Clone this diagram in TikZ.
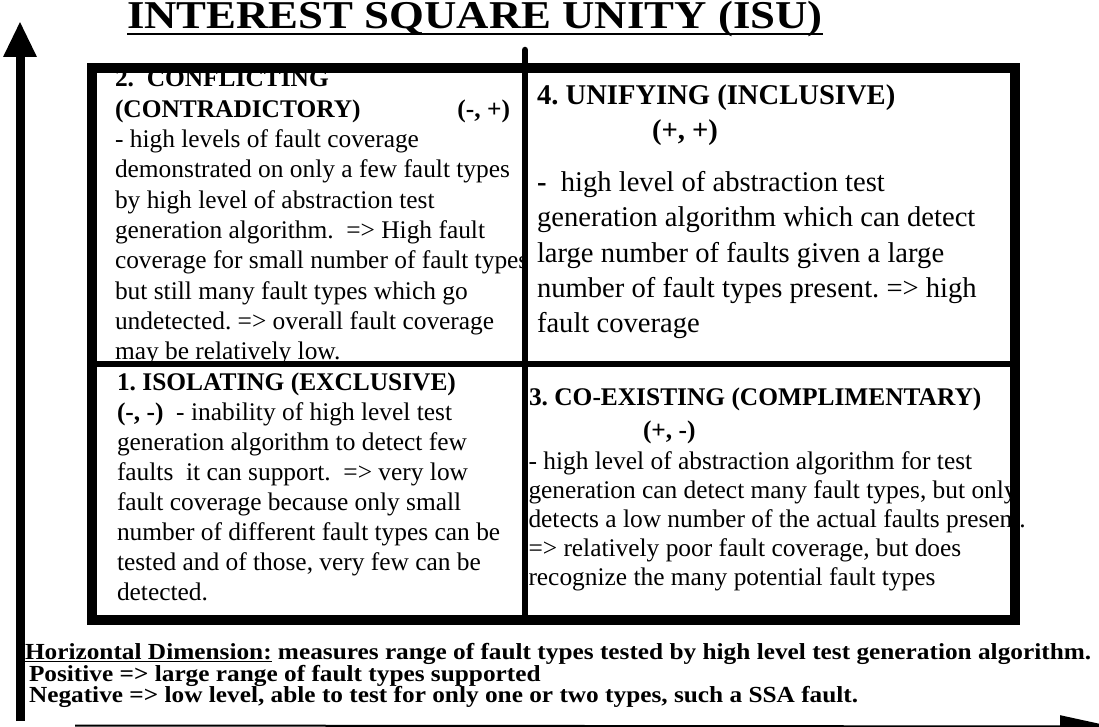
\documentclass[tikz,border=0pt]{standalone}
\usepackage{fontspec}
\setmainfont{Liberation Serif}
\usepackage{graphicx}
\usetikzlibrary{arrows.meta}
\AtBeginDocument{\frenchspacing}
\tikzset{
  body/.style={anchor=base west, inner sep=0pt, outer sep=0pt, font=\fontsize{25.4}{30}\selectfont},
  bodylg/.style={anchor=base west, inner sep=0pt, outer sep=0pt, font=\fontsize{28.6}{35}\selectfont},
  head/.style={body, font=\fontsize{25.4}{30}\selectfont\bfseries},
  headlg/.style={bodylg, font=\fontsize{28.6}{35}\selectfont\bfseries},
  titletext/.style={anchor=base west, inner sep=0pt, outer sep=0pt, font=\fontsize{44.8}{50}\selectfont\bfseries},
  note/.style={anchor=base west, inner sep=0pt, outer sep=0pt, font=\fontsize{23}{26}\selectfont\bfseries},
  frameline/.style={line width=10pt, line join=miter},
  midline/.style={line width=6.5pt},
  yaxis/.style={line width=9pt, -{Triangle[length=36pt,width=31pt]}},
  xaxis/.style={line width=2pt, -{Triangle[length=52pt,width=22pt]}}
}
\begin{document}
\begin{tikzpicture}[x=1pt,y=-1pt]
\useasboundingbox (0,0) rectangle (1099,727);

% title
\node[titletext] (title) at (127,29) {\scalebox{1}[0.88]{INTEREST SQUARE UNITY (ISU)}};
\draw[line width=2.5pt] ([yshift=-5pt]title.base west) -- ([yshift=-5pt]title.base east);

% quadrant 2 (top left)
\node[head] (q2a) at (115,87) {2.~ CONFLICTING};
\node[head] (q2b) at (115,117.3) {(CONTRADICTORY)};
\node[head, anchor=base east] (q2c) at (510,117.3) {(-, +)};
\foreach \t [count=\i] in {
  {- high levels of fault coverage},
  {demonstrated on only a few fault types},
  {by high level of abstraction test},
  {generation algorithm.~ => High fault},
  {coverage for small number of fault types},
  {but still many fault types which go},
  {undetected. => overall fault coverage},
  {may be relatively low.}}
  \node[body] (q2l\i) at (115,{147.6+30.3*(\i-1)}) {\t};

% quadrant 4 (top right)
\node[headlg] (q4a) at (537,105) {4. UNIFYING (INCLUSIVE)};
\node[headlg] (q4b) at (652,140) {(+, +)};
\node[bodylg] (q4c) at (537,192) {\textbf{-}~ high level of abstraction test};
\foreach \t [count=\i] in {
  {generation algorithm which can detect},
  {large number of faults given a large},
  {number of fault types present. => high},
  {fault coverage}}
  \node[bodylg] (q4l\i) at (537,{227+35*(\i-1)}) {\t};

% quadrant 1 (bottom left)
\node[head] (q1a) at (117,390) {1. ISOLATING (EXCLUSIVE)};
\node[body] (q1b) at (117,420) {\textbf{(-, -)}~ - inability of high level test};
\foreach \t [count=\i] in {
  {generation algorithm to detect few},
  {faults~ it can support.~ => very low},
  {fault coverage because only small},
  {number of different fault types can be},
  {tested and of those, very few can be},
  {detected.}}
  \node[body] (q1l\i) at (117,{450+30*(\i-1)}) {\t};

% quadrant 3 (bottom right)
\node[head] (q3a) at (529,405) {3. CO-EXISTING (COMPLIMENTARY)};
\node[head] (q3b) at (643,438) {(+, -)};
\foreach \t [count=\i] in {
  {- high level of abstraction algorithm for test},
  {generation can detect many fault types, but only},
  {detects a low number of the actual faults present.},
  {=> relatively poor fault coverage, but does},
  {recognize the many potential fault types}}
  \node[body] (q3l\i) at (528.5,{469+29*(\i-1)}) {\t};

% frame
\draw[frameline] (92,68) rectangle (1015,620);
\draw[midline] (92,364) -- (1015,364);
\draw[midline, line cap=round] (525,50) -- (525,620);

% bottom notes
\node[note] (n1) at (25,659) {\scalebox{1.1}[1]{\underline{Horizontal Dimension:} measures range of fault types tested by high level test generation algorithm.}};
\node[note] (n2) at (29,681) {\scalebox{1.1}[1]{Positive => large range of fault types supported}};
\node[note] (n3) at (29,702) {\scalebox{1.1}[1]{Negative => low level, able to test for only one or two types, such a SSA fault.}};

% axes
\coordinate (yfoot) at (20,721);
\coordinate (ytip) at (20,21);
\draw[yaxis] (yfoot) -- (ytip);
\coordinate (xfoot) at (75,725.5);
\coordinate (xtip) at (1112,726.5);
\draw[xaxis] (xfoot) -- (xtip);
\end{tikzpicture}
\end{document}
